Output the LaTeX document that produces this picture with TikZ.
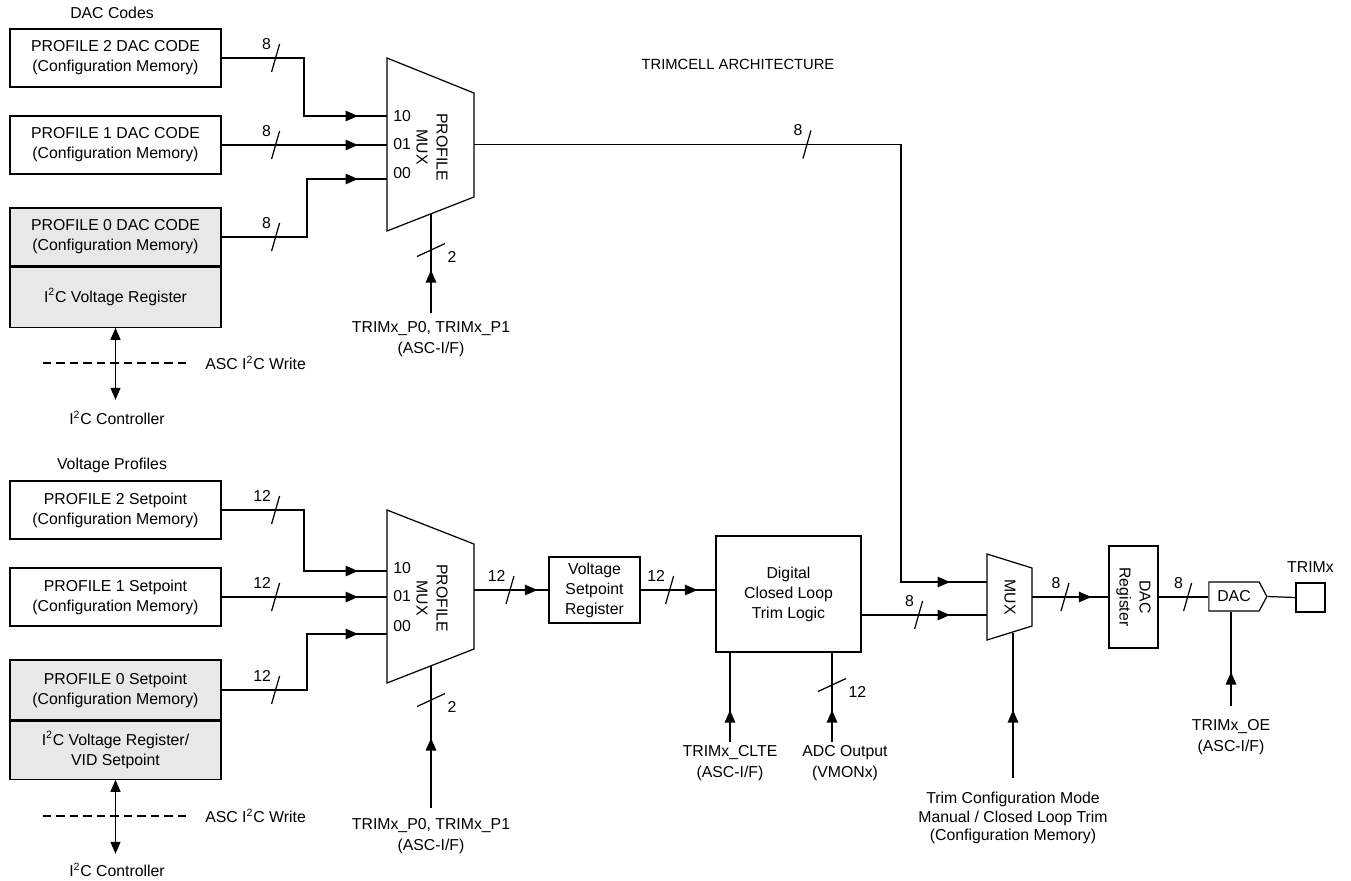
\documentclass[tikz,border=0pt]{standalone}
\usepackage{fontspec}
\setmainfont{Liberation Sans}
\usetikzlibrary{arrows.meta, positioning, calc, shapes.symbols, decorations.markings}

\begin{document}
\begin{tikzpicture}[
        x=0.02cm, y=-0.02cm,
        font=\fontsize{9}{11.4}\selectfont,
        wire/.style={line width=0.7pt},
        box/.style={rectangle, draw, wire, align=center, minimum width=4.22cm, minimum height=1.16cm, inner sep=0pt},
        membox/.style={box, fill=gray!18},
        block/.style={rectangle, draw, wire, align=center, inner sep=0pt},
        muxbody/.style={rectangle, inner sep=0pt, outer sep=0pt},
        lbl/.style={align=center, inner sep=0pt},
        inlbl/.style={lbl, font=\fontsize{9}{12}\selectfont},
        portlbl/.style={anchor=west, inner sep=0pt},
        buslbl/.style={inner sep=0pt},
        dashline/.style={line width=0.6pt, dash pattern=on 0.17cm off 0.1cm},
        biarrow/.style={wire, {Triangle[length=0.24cm,width=0.2cm]}-{Triangle[length=0.24cm,width=0.2cm]}},
        midtip/.style={postaction={decorate, decoration={markings, mark=at position #1 with {\arrow{Triangle[length=0.25cm,width=0.21cm]}}}}},
        hbus/.style 2 args={postaction={decorate, decoration={markings, mark=at position #1 with {\pgftransformresetnontranslations \draw[wire] (-0.08cm,-0.28cm) -- (0.08cm,0.28cm); \node[buslbl, anchor=east] at (-0.08cm,0.28cm) {#2};}}}},
        vbus/.style 2 args={postaction={decorate, decoration={markings, mark=at position #1 with {\pgftransformresetnontranslations \draw[wire] (-0.28cm,-0.13cm) -- (0.28cm,0.13cm); \node[buslbl, anchor=west] at (0.32cm,-0.13cm) {#2};}}}}
    ]
    \useasboundingbox (0,0) rectangle (1351,880);

    % Nodes: DAC codes
    \node[lbl] (daccodes) at (112,13) {DAC Codes};
    \node[box] (pdac2) at (115.5,58) {PROFILE 2 DAC CODE\\(Configuration Memory)};
    \node[box] (pdac1) at (115.5,145) {PROFILE 1 DAC CODE\\(Configuration Memory)};
    \node[membox] (pdac0) at (115.5,237) {PROFILE 0 DAC CODE\\(Configuration Memory)};
    \node[membox, below=0pt of pdac0, minimum height=1.2cm] (i2creg1) {I\textsuperscript{2}C Voltage Register};
    \node[lbl, font=\fontsize{8.4}{10}\selectfont] (title) at (738,64) {TRIMCELL ARCHITECTURE};

    % Nodes: voltage profiles
    \node[lbl] (vprof) at (112,465) {Voltage Profiles};
    \node[box] (psp2) at (115.5,510) {PROFILE 2 Setpoint\\(Configuration Memory)};
    \node[box] (psp1) at (115.5,597) {PROFILE 1 Setpoint\\(Configuration Memory)};
    \node[membox, minimum height=1.2cm] (psp0) at (115.5,690) {PROFILE 0 Setpoint\\(Configuration Memory)};
    \node[membox, below=0pt of psp0] (i2creg2) {I\textsuperscript{2}C Voltage Register/\\VID Setpoint};

    % Muxes
    \node[muxbody, minimum width=1.74cm, minimum height=3.46cm] (mux1) at (430.5,144.5) {};
    \draw[wire] (mux1.north west) -- ([yshift=-0.7cm]mux1.north east) coordinate (mux1-ne)
        -- ([yshift=0.68cm]mux1.south east) coordinate (mux1-se) -- (mux1.south west) -- cycle;
    \node[lbl, rotate=-90] (mux1lbl) at (432,147) {PROFILE\\MUX};
    \node[muxbody, minimum width=1.74cm, minimum height=3.46cm] (mux2) at (430.5,596.5) {};
    \draw[wire] (mux2.north west) -- ([yshift=-0.68cm]mux2.north east) coordinate (mux2-ne)
        -- ([yshift=0.68cm]mux2.south east) coordinate (mux2-se) -- (mux2.south west) -- cycle;
    \node[lbl, rotate=-90] (mux2lbl) at (432,598) {PROFILE\\MUX};
    \node[muxbody, minimum width=0.9cm, minimum height=1.72cm] (mux3) at (1009.5,597) {};
    \draw[wire] (mux3.north west) -- ([yshift=-0.28cm]mux3.north east) coordinate (mux3-ne)
        -- ([yshift=0.28cm]mux3.south east) coordinate (mux3-se) -- (mux3.south west) -- cycle;
    \node[lbl, rotate=-90] (mux3lbl) at (1010,597) {MUX};

    % Mux ports
    \coordinate (mux1-in2) at ([yshift=0.57cm]mux1.west);
    \coordinate (mux1-in1) at (mux1.west |- pdac1.east);
    \coordinate (mux1-in0) at ([yshift=-0.69cm]mux1.west);
    \coordinate (mux1-sel) at ($(mux1.south west)!0.5!(mux1-se)$);
    \coordinate (mux2-in2) at ([yshift=0.51cm]mux2.west);
    \coordinate (mux2-in1) at (mux2.west |- psp1.east);
    \coordinate (mux2-in0) at ([yshift=-0.75cm]mux2.west);
    \coordinate (mux2-sel) at ($(mux2.south west)!0.5!(mux2-se)$);
    \coordinate (mux3-in1) at ([yshift=0.3cm]mux3.west);
    \coordinate (mux3-in0) at ([yshift=-0.36cm]mux3.west);
    \coordinate (mux3-sel) at ($(mux3.south west)!0.5!(mux3-se)$);
    \node[portlbl] (m1p2) at ([xshift=0.12cm,yshift=0.57cm]mux1.west) {10};
    \node[portlbl] (m1p1) at ([xshift=0.12cm]mux1.west) {01};
    \node[portlbl] (m1p0) at ([xshift=0.12cm,yshift=-0.57cm]mux1.west) {00};
    \node[portlbl] (m2p2) at ([xshift=0.12cm,yshift=0.57cm]mux2.west) {10};
    \node[portlbl] (m2p1) at ([xshift=0.12cm]mux2.west) {01};
    \node[portlbl] (m2p0) at ([xshift=0.12cm,yshift=-0.59cm]mux2.west) {00};

    % Nodes: trim path
    \node[block, minimum width=1.82cm, minimum height=1.32cm] (vsr) at (594.5,590) {Voltage\\Setpoint\\Register};
    \node[block, minimum width=2.9cm, minimum height=2.32cm] (dcl) at (788.5,594) {Digital\\Closed Loop\\Trim Logic};
    \node[block, minimum width=0.98cm, minimum height=2.04cm] (dacreg) at (1133.5,597) {};
    \node[lbl, rotate=-90] (dacreglbl) at (dacreg) {DAC\\Register};
    \node[draw, wire, signal, signal to=east, signal pointer angle=124, minimum width=1.16cm, minimum height=0.58cm, inner sep=0pt] (dac) at (1234,596.5) {DAC};
    \node[block, minimum size=0.58cm, label={[lbl, label distance=0.2cm]above:TRIMx}] (trimx) at (1310.5,597.5) {};

    % Input labels
    \node[inlbl] (sel1lbl) at (431,339) {TRIMx\_P0, TRIMx\_P1\\(ASC-I/F)};
    \node[inlbl] (sel2lbl) at (431,836.5) {TRIMx\_P0, TRIMx\_P1\\(ASC-I/F)};
    \node[inlbl] (cltelbl) at (730,763) {TRIMx\_CLTE\\(ASC-I/F)};
    \node[inlbl] (adclbl) at (845,763) {ADC Output\\(VMONx)};
    \node[lbl, font=\fontsize{9}{10.6}\selectfont] (tcmlbl) at (1013,818) {Trim Configuration Mode\\Manual / Closed Loop Trim\\(Configuration Memory)};
    \node[inlbl] (oelbl) at (1231,737.5) {TRIMx\_OE\\(ASC-I/F)};
    \node[lbl] (i2cc1) at (117,418) {I\textsuperscript{2}C Controller};
    \node[lbl] (i2cc2) at (117,870) {I\textsuperscript{2}C Controller};
    \node[lbl, anchor=west] (ascw1) at (205,363) {ASC I\textsuperscript{2}C Write};
    \node[lbl, anchor=west] (ascw2) at (205,816) {ASC I\textsuperscript{2}C Write};

    % Free ends
    \coordinate (sel1src) at (431,313);
    \coordinate (sel2src) at (431,808);
    \coordinate (cltesrc) at (730,742);
    \coordinate (adcsrc) at (832,742);
    \coordinate (tcmsrc) at (1013,778);
    \coordinate (oesrc) at (1231,706);
    \coordinate[below=1.44cm of i2creg1.south] (i2cend1);
    \coordinate[below=1.48cm of i2creg2.south] (i2cend2);
    \coordinate (dash1a) at (43,363);
    \coordinate (dash1b) at (188,363);
    \coordinate (dash2a) at (43,816);
    \coordinate (dash2b) at (188,816);

    % Connections: DAC codes
    \draw[wire, hbus={1.08cm}{8}, midtip=-0.58cm] (pdac2.east) -| ([xshift=-1.66cm]mux1-in2) -- (mux1-in2);
    \draw[wire, hbus={1.08cm}{8}, midtip=-0.58cm] (pdac1.east) -- (mux1-in1);
    \draw[wire, hbus={1.08cm}{8}, midtip=-0.58cm] (pdac0.east) -| ([xshift=-1.6cm]mux1-in0) -- (mux1-in0);
    \draw[wire, vbus={1.26cm}{2}, midtip=0.86cm] (sel1src) -- (sel1src |- mux1-sel);
    \draw[wire, hbus={6.66cm}{8}, midtip=-0.74cm] (mux1.east) -| ([xshift=-1.72cm]mux3-in1) -- (mux3-in1);
    \draw[biarrow] (i2creg1.south) -- (i2cend1);
    \draw[dashline] (dash1a) -- (dash1b);

    % Connections: voltage profiles
    \draw[wire, hbus={1.08cm}{12}, midtip=-0.58cm] (psp2.east) -| ([xshift=-1.66cm]mux2-in2) -- (mux2-in2);
    \draw[wire, hbus={1.08cm}{12}, midtip=-0.58cm] (psp1.east) -- (mux2-in1);
    \draw[wire, hbus={1.08cm}{12}, midtip=-0.58cm] (psp0.east) -| ([xshift=-1.6cm]mux2-in0) -- (mux2-in0);
    \draw[wire, vbus={2.16cm}{2}, midtip=1.4cm] (sel2src) -- (sel2src |- mux2-sel);
    \draw[biarrow] (i2creg2.south) -- (i2cend2);
    \draw[dashline] (dash2a) -- (dash2b);

    % Connections: trim path
    \draw[wire, hbus={0.72cm}{12}, midtip=-0.22cm] (mux2.east |- vsr.west) -- (vsr.west);
    \draw[wire, hbus={0.58cm}{12}, midtip=-0.36cm] (vsr.east) -- (vsr.east -| dcl.west);
    \draw[wire, hbus={1.14cm}{8}, midtip=-0.74cm] (dcl.east |- mux3-in0) -- (mux3-in0);
    \draw[wire, midtip=0.64cm] (cltesrc) -- (cltesrc |- dcl.south);
    \draw[wire, vbus={1.14cm}{12}, midtip=0.64cm] (adcsrc) -- (adcsrc |- dcl.south);
    \draw[wire, midtip=1.36cm] (tcmsrc) -- (tcmsrc |- mux3-sel);
    \draw[wire, hbus={0.66cm}{8}, midtip=-0.34cm] (mux3.east) -- (dacreg.west);
    \draw[wire, hbus={0.58cm}{8}] (dacreg.east) -- (dac.west |- dacreg.east);
    \draw[wire] (dac.east) -- (trimx.west);
    \draw[wire, midtip=0.68cm] (oesrc) -- (oesrc |- dac.south);

\end{tikzpicture}
\end{document}
